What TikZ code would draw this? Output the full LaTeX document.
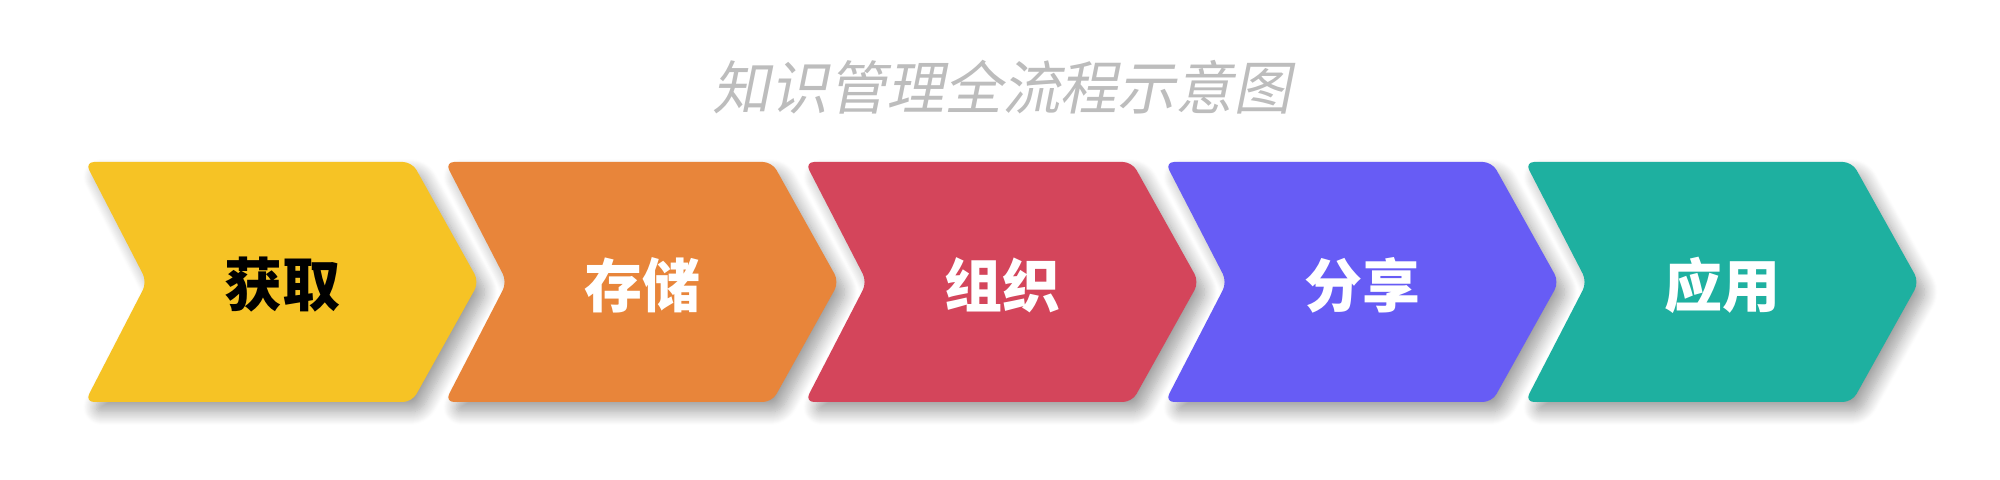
\documentclass[tikz,border=0pt]{standalone}
\usepackage{fontspec}
\newfontfamily\cjk{Noto Sans CJK SC}
\newfontfamily\cjktitle{Noto Sans CJK SC}[FakeSlant=0.2]
\usetikzlibrary{shadows.blur}

\definecolor{stepyellow}{HTML}{F6C325}
\definecolor{steporange}{HTML}{E8853A}
\definecolor{stepred}{HTML}{D4455B}
\definecolor{steppurple}{HTML}{675CF5}
\definecolor{stepteal}{HTML}{1EB0A0}
\definecolor{titlegray}{HTML}{BDBDBD}

\tikzset{
  chevron/.style={rounded corners=2.6pt, draw=none,
    blur shadow={shadow xshift=0.08cm, shadow yshift=-0.1cm,
      shadow blur steps=14, shadow blur radius=0.13cm, shadow opacity=38}},
  steplabel/.style={font=\cjk\bfseries\fontsize{16.5}{18}\selectfont},
  titlelabel/.style={font=\cjktitle\fontsize{16.5}{20}\selectfont, text=titlegray}
}

\begin{document}
\begin{tikzpicture}

\useasboundingbox (0,0) rectangle (20,4.8);

% Title
\node[titlelabel] (title) at (10.02,3.93) {知识管理全流程示意图};

% Chevrons
\foreach \i/\col/\txt/\tcol in {0/stepyellow/获取/black, 1/steporange/存储/white,
    2/stepred/组织/white, 3/steppurple/分享/white, 4/stepteal/应用/white}{
  \pgfmathsetmacro{\xa}{0.85+3.6*\i}
  \fill[chevron, \col] (\xa,3.18) -- (\xa+3.27,3.18) -- (\xa+3.94,1.98)
    -- (\xa+3.27,0.78) -- (\xa,0.78) -- (\xa+0.62,1.98) -- cycle;
  \node[steplabel, text=\tcol] (step\i) at (\xa+1.97,1.95) {\txt};
}

\end{tikzpicture}
\end{document}
